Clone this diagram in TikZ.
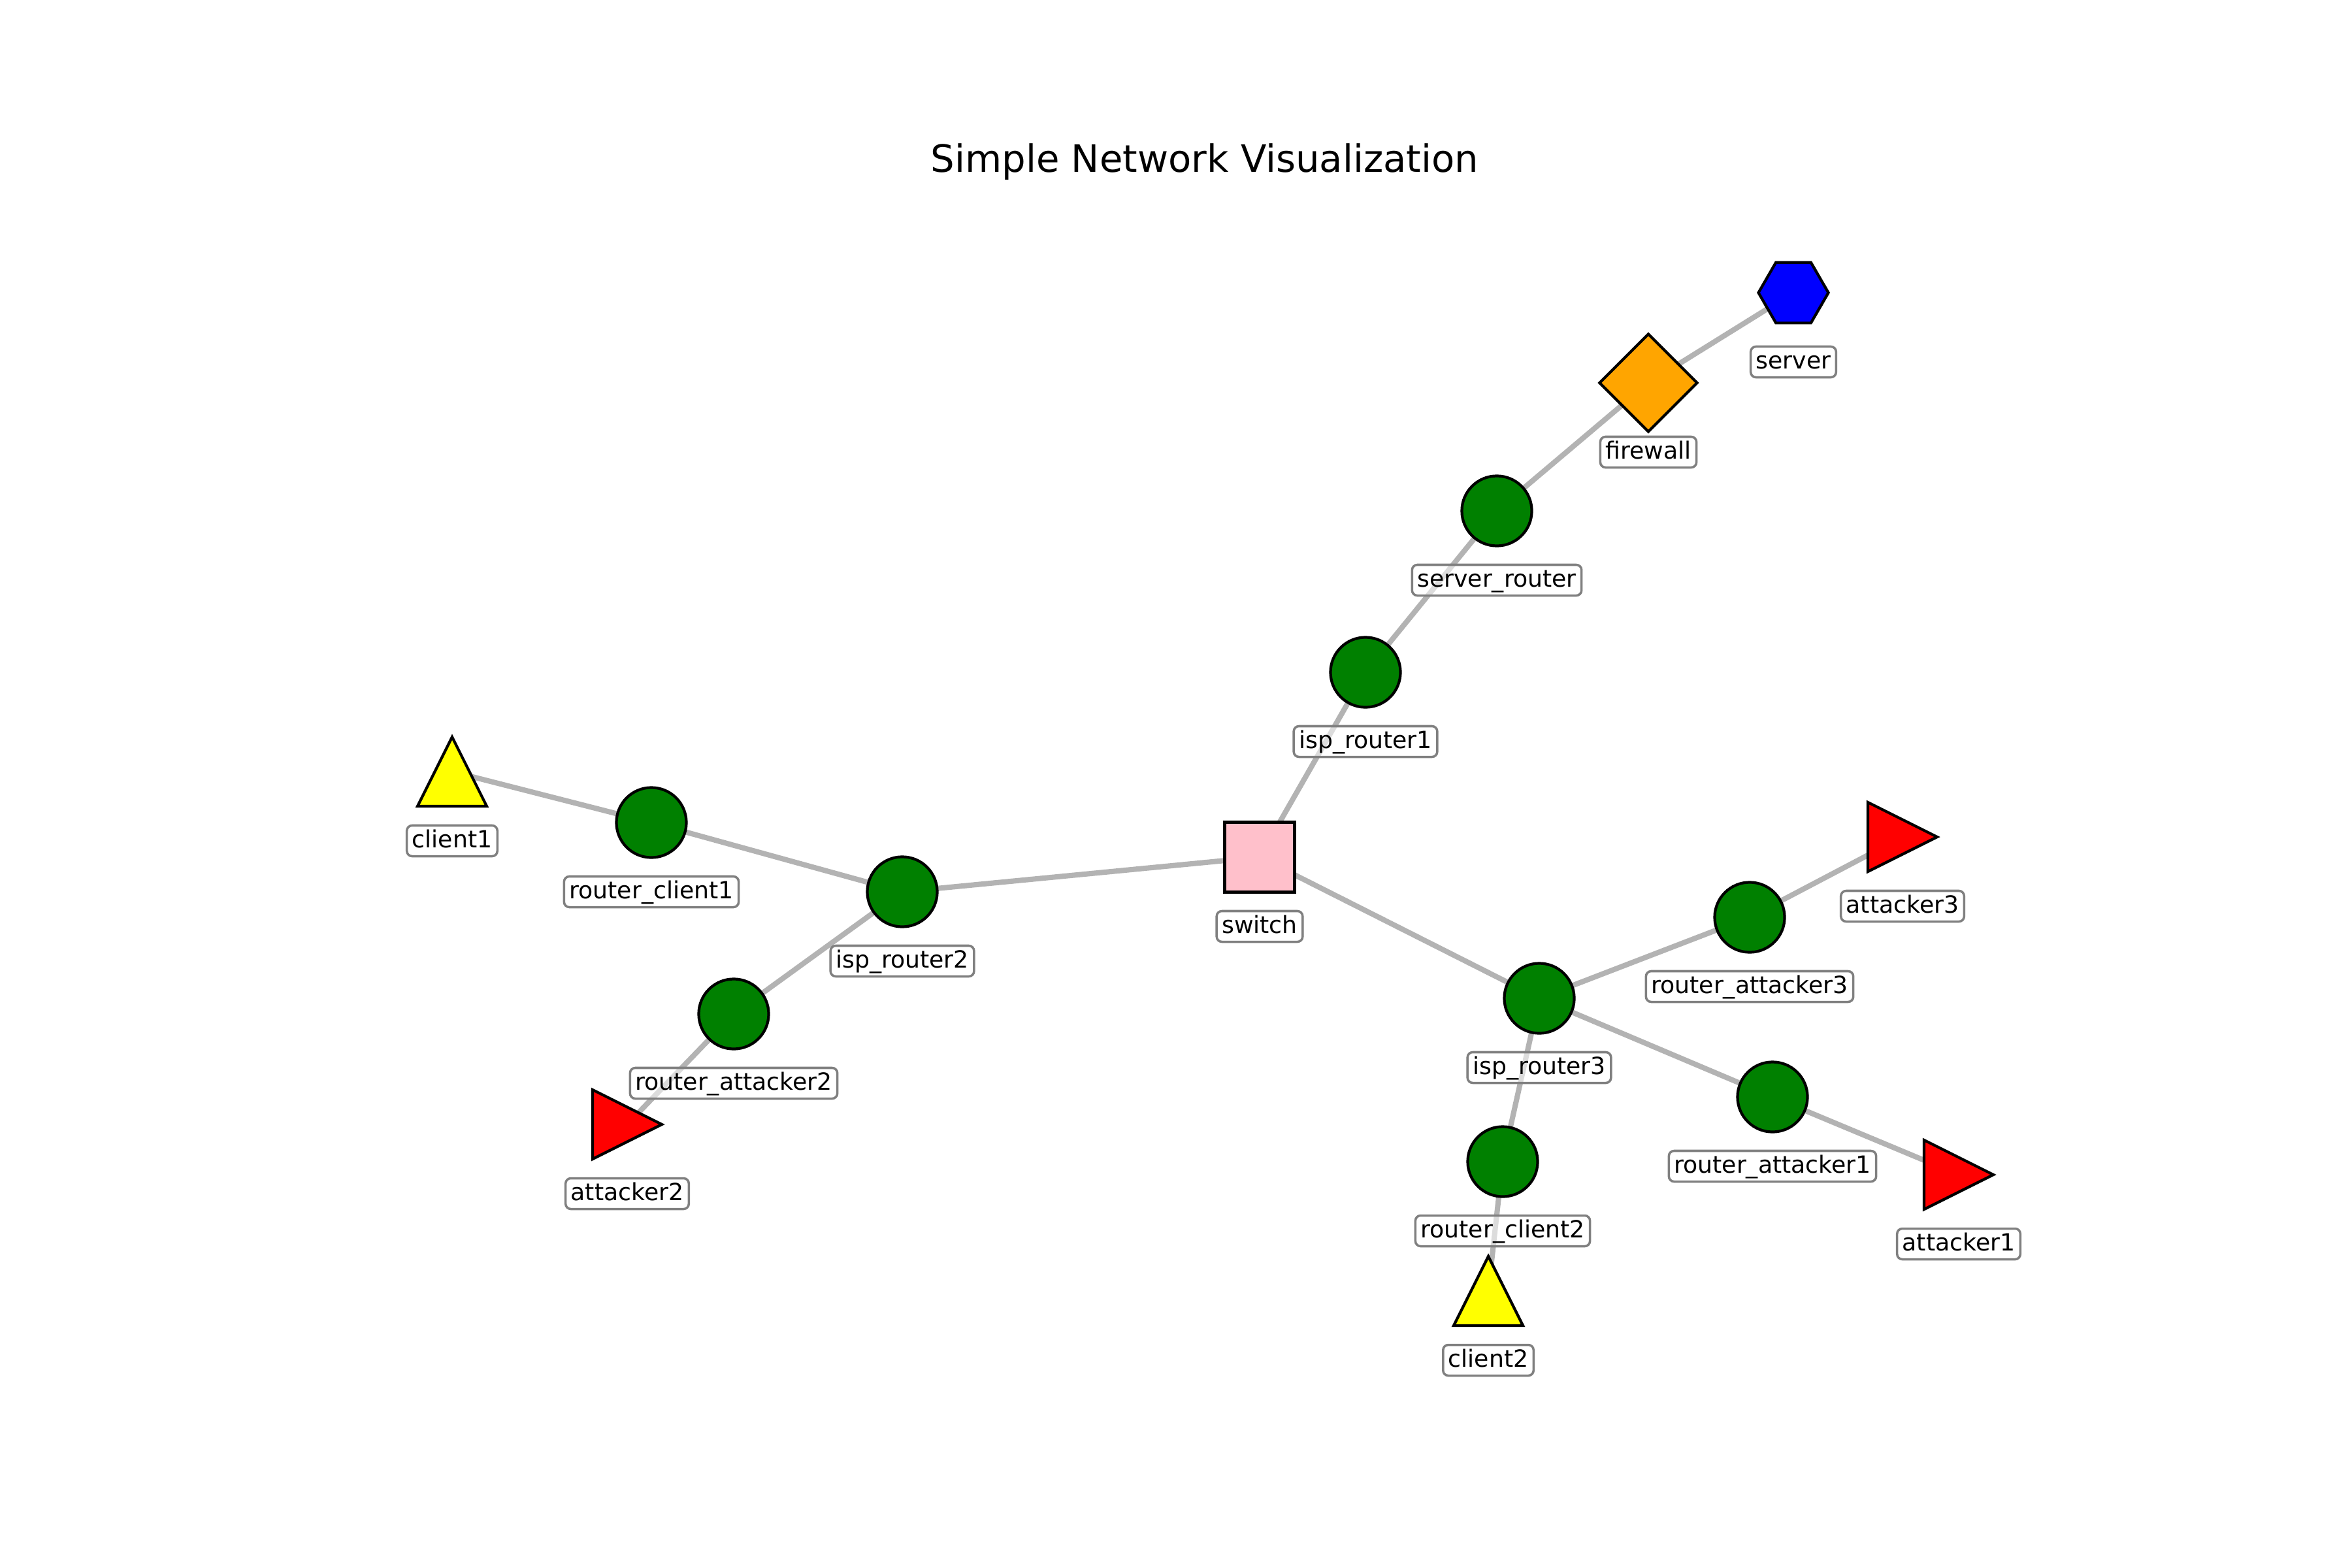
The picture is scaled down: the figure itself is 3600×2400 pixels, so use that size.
\documentclass[tikz,border=0pt]{standalone}
\usepackage{fontspec}
\setmainfont{DejaVu Sans}
\usetikzlibrary{shapes.geometric}
\pgfdeclarelayer{bg}
\pgfsetlayers{bg,main}
\definecolor{edgegray}{HTML}{B3B3B3}
\definecolor{labelgray}{HTML}{808080}
\definecolor{netgreen}{HTML}{008000}
\definecolor{netorange}{HTML}{FFA500}
\definecolor{netblue}{HTML}{0000FF}
\definecolor{netpink}{HTML}{FFC0CB}
\definecolor{netyellow}{HTML}{FFFF00}
\definecolor{netred}{HTML}{FF0000}
\begin{document}
\begin{tikzpicture}[x=0.01cm,y=-0.01cm,
  edge/.style={draw=edgegray, line width=2.3pt},
  nd/.style={draw=black, line width=1.2pt, inner sep=0pt},
  router/.style={nd, circle, fill=netgreen, minimum size=1.07cm},
  switchbox/.style={nd, rectangle, fill=netpink, minimum size=1.07cm},
  fwall/.style={nd, diamond, aspect=1, fill=netorange, minimum width=1.51cm, minimum height=1.51cm},
  srv/.style={nd, regular polygon, regular polygon sides=6, fill=netblue, minimum size=1.07cm},
  tri/.style={draw=black, line width=1.2pt, line join=miter},
  lbl/.style={draw=labelgray, line width=1pt, fill=white, fill opacity=0.55, text opacity=1,
    rounded corners=0.08cm, inner xsep=0.08cm, inner ysep=0pt,
    text height=0.34cm, text depth=0.13cm,
    font=\fontsize{10.3}{12}\selectfont}
]
\useasboundingbox (0,0) rectangle (3600,2400);

% title
\node[font=\fontsize{16.4}{20}\selectfont, anchor=base, inner sep=0pt] (title) at (1844,263) {Simple Network Visualization};

% nodes
\node[srv] (server) at (2745,448) {};
\node[fwall] (firewall) at (2523,586) {};
\node[router] (server_router) at (2291,782) {};
\node[router] (isp_router1) at (2090,1029) {};
\node[switchbox] (switch) at (1928,1312) {};
\node[router] (isp_router2) at (1381,1365) {};
\node[router] (router_client1) at (997,1259) {};
\coordinate (client1) at (692,1181);
\node[router] (router_attacker2) at (1123,1552) {};
\coordinate (attacker2) at (960,1721);
\node[router] (isp_router3) at (2356,1528) {};
\node[router] (router_attacker3) at (2678,1404) {};
\coordinate (attacker3) at (2912,1281);
\node[router] (router_attacker1) at (2713,1679) {};
\coordinate (attacker1) at (2998,1798);
\node[router] (router_client2) at (2300,1778) {};
\coordinate (client2) at (2278,1976);

% triangles
\draw[tri, fill=netyellow, shift={(client1)}] (0,-53) -- (53,53) -- (-53,53) -- cycle;
\draw[tri, fill=netyellow, shift={(client2)}] (0,-53) -- (53,53) -- (-53,53) -- cycle;
\draw[tri, fill=netred, shift={(attacker1)}] (-53,-53) -- (53,0) -- (-53,53) -- cycle;
\draw[tri, fill=netred, shift={(attacker2)}] (-53,-53) -- (53,0) -- (-53,53) -- cycle;
\draw[tri, fill=netred, shift={(attacker3)}] (-53,-53) -- (53,0) -- (-53,53) -- cycle;

% edges
\begin{pgfonlayer}{bg}
\draw[edge] (server.center) -- (firewall.center);
\draw[edge] (firewall.center) -- (server_router.center);
\draw[edge] (server_router.center) -- (isp_router1.center);
\draw[edge] (isp_router1.center) -- (switch.center);
\draw[edge] (switch.center) -- (isp_router2.center);
\draw[edge] (switch.center) -- (isp_router3.center);
\draw[edge] (isp_router2.center) -- (router_client1.center);
\draw[edge] (router_client1.center) -- (client1);
\draw[edge] (isp_router2.center) -- (router_attacker2.center);
\draw[edge] (router_attacker2.center) -- (attacker2);
\draw[edge] (isp_router3.center) -- (router_attacker3.center);
\draw[edge] (router_attacker3.center) -- (attacker3);
\draw[edge] (isp_router3.center) -- (router_attacker1.center);
\draw[edge] (router_attacker1.center) -- (attacker1);
\draw[edge] (isp_router3.center) -- (router_client2.center);
\draw[edge] (router_client2.center) -- (client2);
\end{pgfonlayer}

% labels
\node[lbl] (server-l) at (2745,554) {server};
\node[lbl] (firewall-l) at (2523,692) {firewall};
\node[lbl] (server_router-l) at (2291,888) {server\_router};
\node[lbl] (isp_router1-l) at (2090,1135) {isp\_router1};
\node[lbl] (switch-l) at (1928,1418) {switch};
\node[lbl] (isp_router2-l) at (1381,1471) {isp\_router2};
\node[lbl] (router_client1-l) at (997,1365) {router\_client1};
\node[lbl] (client1-l) at (692,1287) {client1};
\node[lbl] (router_attacker2-l) at (1123,1658) {router\_attacker2};
\node[lbl] (attacker2-l) at (960,1827) {attacker2};
\node[lbl] (isp_router3-l) at (2356,1634) {isp\_router3};
\node[lbl] (router_attacker3-l) at (2678,1510) {router\_attacker3};
\node[lbl] (attacker3-l) at (2912,1387) {attacker3};
\node[lbl] (router_attacker1-l) at (2713,1785) {router\_attacker1};
\node[lbl] (attacker1-l) at (2998,1904) {attacker1};
\node[lbl] (router_client2-l) at (2300,1884) {router\_client2};
\node[lbl] (client2-l) at (2278,2082) {client2};
\end{tikzpicture}
\end{document}
